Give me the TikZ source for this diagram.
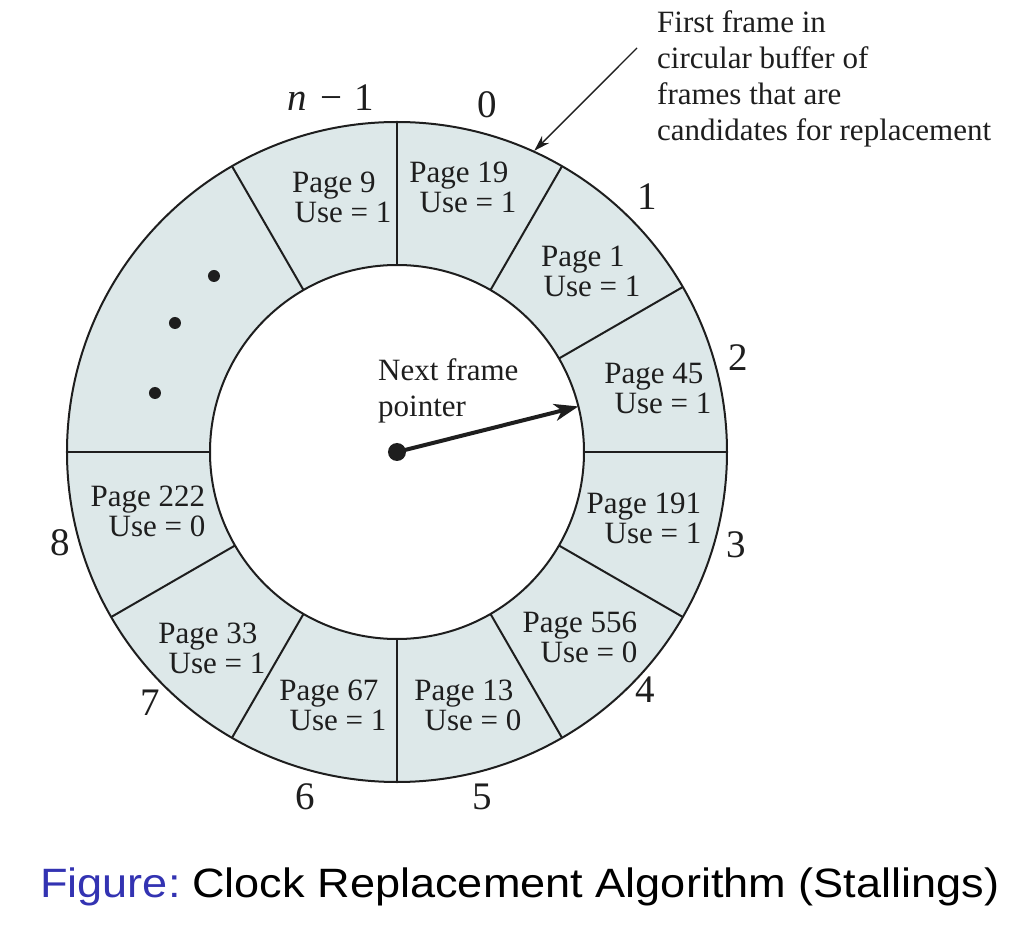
\documentclass[tikz,border=0pt]{standalone}
\usepackage{fontspec}
\setmainfont{Liberation Serif}
\newfontfamily\capfont[FakeStretch=1.1]{Liberation Sans}
\usetikzlibrary{arrows.meta}
\definecolor{segfill}{RGB}{221,232,233}
\definecolor{figblue}{RGB}{51,51,178}
\definecolor{ink}{RGB}{30,30,30}
\newcommand{\pu}[2]{#1\\\hspace*{18pt}#2}
\begin{document}
\begin{tikzpicture}[x=1pt,y=1pt,
  pagetxt/.style={font=\fontsize{31}{30}\selectfont, align=center, inner sep=0pt, text=ink},
  numtxt/.style={font=\fontsize{39}{39}\selectfont, inner sep=0pt, text=ink},
  notetxt/.style={font=\fontsize{31}{36}\selectfont, align=left, inner sep=0pt, text=ink},
  ringline/.style={draw=ink, line width=2pt},
  blob/.style={circle, fill=ink, inner sep=0pt, minimum size=12pt}]
\useasboundingbox (-397,-474) rectangle (631,452);
% ring
\fill[segfill, even odd rule] (0,0) circle (330) (0,0) circle (187);
\draw[ringline] (0,0) circle (330);
\draw[ringline] (0,0) circle (187);
\foreach \a in {90,60,30,0,-30,-60,-90,-120,-150,180,120}
  \draw[ringline] (\a:187) -- (\a:330);
% page texts
\node[pagetxt] (p9)   at (-63,255)  {\pu{Page 9}{Use = 1}};
\node[pagetxt] (p19)  at (62,265)   {\pu{Page 19}{Use = 1}};
\node[pagetxt] (p1)   at (186,181)  {\pu{Page 1}{Use = 1}};
\node[pagetxt] (p45)  at (257,64)   {\pu{Page 45}{Use = 1}};
\node[pagetxt] (p191) at (247,-66)  {\pu{Page 191}{Use = 1}};
\node[pagetxt] (p556) at (183,-185) {\pu{Page 556}{Use = 0}};
\node[pagetxt] (p13)  at (67,-253)  {\pu{Page 13}{Use = 0}};
\node[pagetxt] (p67)  at (-68,-253) {\pu{Page 67}{Use = 1}};
\node[pagetxt] (p33)  at (-189,-196){\pu{Page 33}{Use = 1}};
\node[pagetxt] (p222) at (-249,-59) {\pu{Page 222}{Use = 0}};
% dots
\node[blob] (d1) at (-183,176) {};
\node[blob] (d2) at (-222,129) {};
\node[blob] (d3) at (-242,59) {};
% frame numbers
\node[numtxt] (nn) at (-66,354) {\textit{n}\hspace{0.33em}−\hspace{0.33em}1};
\node[numtxt] (n0) at (90,347) {0};
\node[numtxt] (n1) at (250,255) {1};
\node[numtxt] (n2) at (341,94) {2};
\node[numtxt] (n3) at (339,-93) {3};
\node[numtxt] (n4) at (248,-238) {4};
\node[numtxt] (n5) at (85,-345) {5};
\node[numtxt] (n6) at (-92,-345) {6};
\node[numtxt] (n7) at (-247,-251) {7};
\node[numtxt] (n8) at (-337,-91) {8};
% annotation (base anchor = last line's baseline)
\node[notetxt, anchor=base west] (note) at (260,311)
  {First frame in\\circular buffer of\\frames that are\\candidates for replacement};
\coordinate (noteStart) at (240,404);
\coordinate (firstFrame) at (65.5:331);
\draw[ink, line width=1.4pt, -{Stealth[length=16pt,width=10pt,inset=5pt]}] (noteStart) -- (firstFrame);
% pointer
\node[notetxt, anchor=base west] (ptrtxt) at (-19,35) {Next frame\\pointer};
\node[blob, minimum size=18pt] (hub) at (0,0) {};
\coordinate (ptrTip) at (14.1:187);
\draw[ink, line width=4pt, -{Stealth[length=24pt,width=17pt,inset=7pt]}] (hub.center) -- (ptrTip);
% caption
\node[anchor=base west, inner sep=0pt, font=\capfont\fontsize{41}{41}\selectfont] (cap) at (-357,-445)
  {\textcolor{figblue}{Figure:}\hspace{-0.12em} Clock Replacement Algorithm (Stallings)};
\end{tikzpicture}
\end{document}
